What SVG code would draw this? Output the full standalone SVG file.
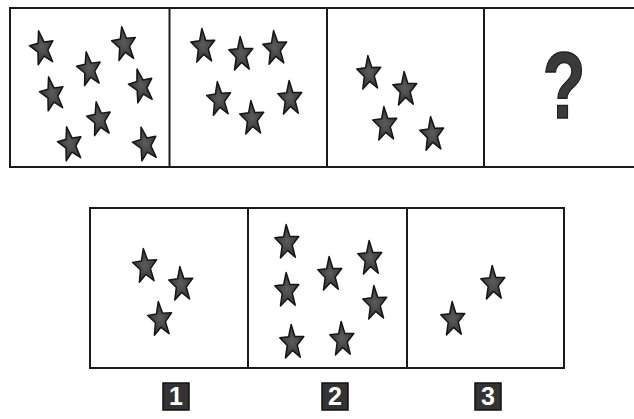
<svg xmlns="http://www.w3.org/2000/svg" xmlns:xlink="http://www.w3.org/1999/xlink" width="634" height="419" viewBox="0 0 634 419">
<style>
.frame{fill:none;stroke:#1a1a1a;stroke-width:2}
.div{stroke:#1a1a1a;stroke-width:2}
.st{fill:url(#sg);stroke:#151515;stroke-width:1.5;stroke-linejoin:round}
.q{font-family:"Liberation Sans",Arial,sans-serif;font-weight:bold;font-size:94px;fill:#3a3a3a;stroke:#222;stroke-width:1.5}
.lb{fill:#333;stroke:#111;stroke-width:1.5}
.lt{font-family:"Liberation Sans",Arial,sans-serif;font-weight:bold;font-size:25px;fill:#fff;text-anchor:middle}
</style>
<defs>
<radialGradient id="sg" cx="0.5" cy="0.5" r="0.6">
<stop offset="0" stop-color="#5c5c5c"/>
<stop offset="1" stop-color="#2e2e2e"/>
</radialGradient>
<path id="star" class="st" d="M0,-16.5 L3.1,-4.4 L12,-3.9 L5,4.2 L7.4,16.6 L0,9.4 L-7.4,16.6 L-5,4.2 L-12,-3.9 L-3.1,-4.4 Z"/>
</defs>
<rect width="634" height="419" fill="#fff"/>
<g id="connectors"/>
<g id="top-row">
<rect class="frame" x="10" y="8" width="640" height="159"/>
<line class="div" x1="169.5" y1="8" x2="169.5" y2="167"/>
<line class="div" x1="327" y1="8" x2="327" y2="167"/>
<line class="div" x1="484" y1="8" x2="484" y2="167"/>
</g>
<g id="panel-a">
<use href="#star" transform="translate(42,47) rotate(-12)"/>
<use href="#star" transform="translate(124,43) rotate(-8)"/>
<use href="#star" transform="translate(89,68) rotate(-10)"/>
<use href="#star" transform="translate(52,93) rotate(-12)"/>
<use href="#star" transform="translate(141,85) rotate(-14)"/>
<use href="#star" transform="translate(99,118) rotate(-10)"/>
<use href="#star" transform="translate(70,143) rotate(-12)"/>
<use href="#star" transform="translate(145,143) rotate(-14)"/>
</g>
<g id="panel-b">
<use href="#star" transform="translate(203,45) rotate(-4)"/>
<use href="#star" transform="translate(241,53) rotate(-3)"/>
<use href="#star" transform="translate(275,47) rotate(-5)"/>
<use href="#star" transform="translate(219,98) rotate(-6)"/>
<use href="#star" transform="translate(252,117) rotate(-4)"/>
<use href="#star" transform="translate(290,97) rotate(-3)"/>
</g>
<g id="panel-c">
<use href="#star" transform="translate(369,72) rotate(-4)"/>
<use href="#star" transform="translate(405,88) rotate(-3)"/>
<use href="#star" transform="translate(385,123) rotate(-4)"/>
<use href="#star" transform="translate(432,133) rotate(-5)"/>
</g>
<g id="panel-d">
<text class="q" x="752" y="118" text-anchor="middle" transform="scale(0.75,1)">?</text>
</g>
<g id="bottom-row">
<rect class="frame" x="90" y="208" width="474" height="160"/>
<line class="div" x1="248" y1="208" x2="248" y2="368"/>
<line class="div" x1="407" y1="208" x2="407" y2="368"/>
</g>
<g id="option-1">
<use href="#star" transform="translate(145,265) rotate(-6)"/>
<use href="#star" transform="translate(181,283) rotate(-4)"/>
<use href="#star" transform="translate(160,318) rotate(-6)"/>
</g>
<g id="option-2">
<use href="#star" transform="translate(287,241) rotate(-3)"/>
<use href="#star" transform="translate(287,289) rotate(-3)"/>
<use href="#star" transform="translate(330,273) rotate(-3)"/>
<use href="#star" transform="translate(370,257) rotate(-3)"/>
<use href="#star" transform="translate(375,302) rotate(-4)"/>
<use href="#star" transform="translate(292,341) rotate(-3)"/>
<use href="#star" transform="translate(342,338) rotate(-3)"/>
</g>
<g id="option-3">
<use href="#star" transform="translate(493,282) rotate(-3)"/>
<use href="#star" transform="translate(453,318) rotate(-3)"/>
</g>
<g id="label-1">
<rect class="lb" x="163" y="383" width="26" height="27"/>
<text class="lt" x="176" y="405">1</text>
</g>
<g id="label-2">
<rect class="lb" x="322" y="383" width="26" height="27"/>
<text class="lt" x="335" y="405">2</text>
</g>
<g id="label-3">
<rect class="lb" x="475" y="383" width="26" height="27"/>
<text class="lt" x="488" y="405">3</text>
</g>
</svg>
